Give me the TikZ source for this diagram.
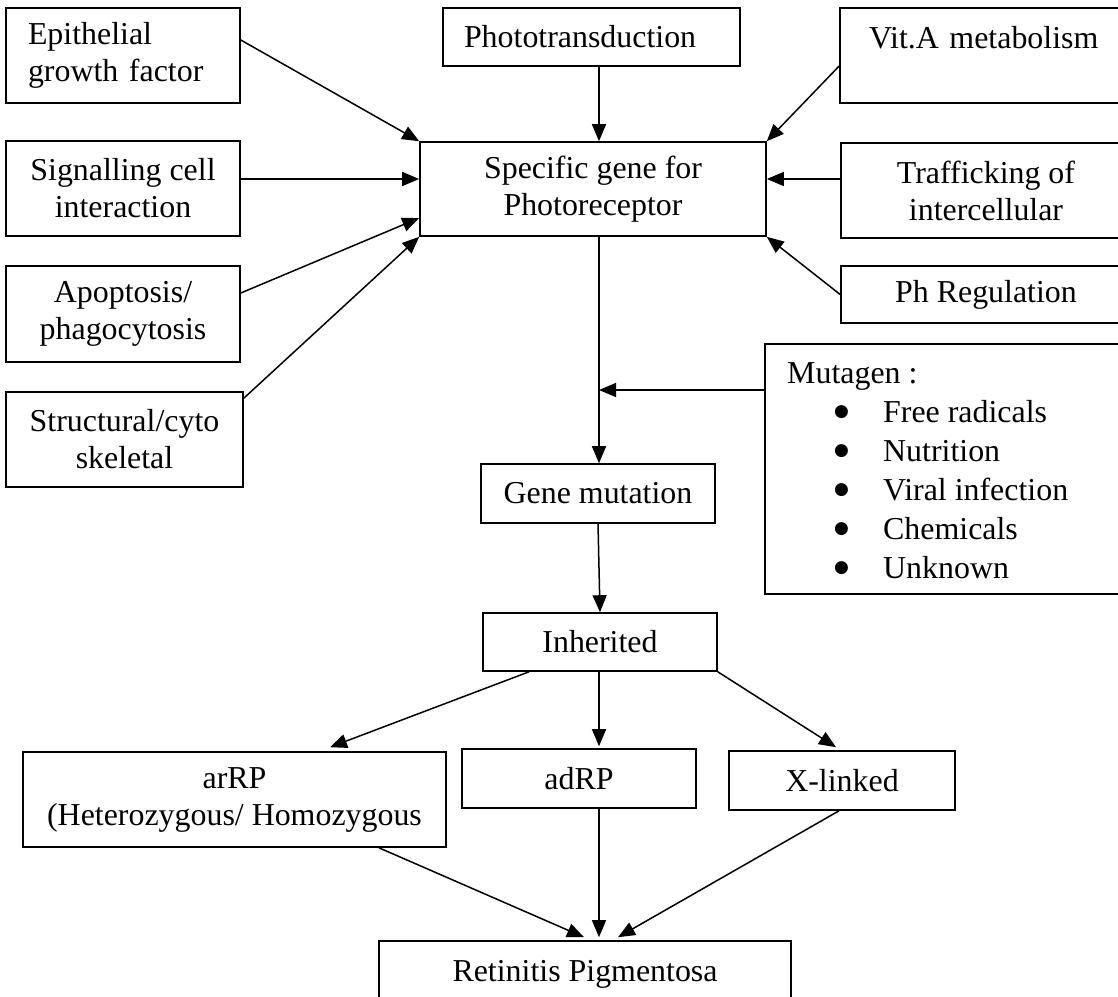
\documentclass[tikz,border=0pt]{standalone}
\usepackage{fontspec}
\setmainfont{Liberation Serif}
\newfontfamily\dvsfont{DejaVu Sans}
\usetikzlibrary{arrows.meta}
\newcommand\rpfont{\fontsize{31.9}{37}\selectfont\frenchspacing}
\newcommand\mutfont{\fontsize{31.9}{39}\selectfont\frenchspacing}
\newcommand\rpitem[1]{\hspace*{47pt}\makebox[49pt][l]{\raisebox{6pt}{\dvsfont\fontsize{17}{17}\selectfont ●}}#1}
\begin{document}
\begin{tikzpicture}[x=1pt,y=-1pt,
  box/.style={draw,line width=1.6pt,inner sep=0pt,align=center,font=\rpfont},
  lbox/.style={box,align=left},
  arr/.style={line width=1.5pt,-{Triangle[length=17pt,width=14pt]}}]
\useasboundingbox (0,0) rectangle (1118,996);
\fill[white] (0,0) rectangle (1118,996);
\clip (0,0) rectangle (1118,996);
\coordinate (ax) at (599,0);
% boxes
\node[lbox,inner xsep=22pt,text width=190pt,minimum height=95pt] (epi) at (123,55.5) {Epithelial\\growth factor};
\node[lbox,inner xsep=21pt,text width=255pt,minimum height=58pt] (photo) at (591.5,37) {Phototransduction};
\node[lbox,inner xsep=29pt,text width=242pt,minimum height=95pt] (vit) at (990,55.5) {Vit.A metabolism\\~};
\node[box,minimum width=346pt,minimum height=94pt] (spec) at (593,189) {Specific gene for\\Photoreceptor};
\node[box,minimum width=234pt,minimum height=95pt] (sig) at (123,188.5) {Signalling cell\\interaction};
\node[box,minimum width=290pt,minimum height=95pt] (traf) at (986,190.5) {Trafficking of\\intercellular};
\node[box,minimum width=290pt,minimum height=57pt] (ph) at (986,294.5) {Ph Regulation};
\node[box,minimum width=234pt,minimum height=96pt] (apo) at (123,314) {Apoptosis/\\phagocytosis};
\node[box,minimum width=237pt,minimum height=95pt] (str) at (124.5,439.5) {Structural/cyto\\skeletal};
\node[box,minimum width=366pt,minimum height=250pt] (mut) at (948,469) {};
\node[inner sep=0pt,anchor=north west,align=left,font=\mutfont] (mlist) at (787,362)
  {Mutagen :\\\rpitem{Free radicals}\\\rpitem{Nutrition}\\\rpitem{Viral infection}\\\rpitem{Chemicals}\\\rpitem{Unknown}};
\node[box,minimum width=234pt,minimum height=59pt] (gm) at (598,493.5) {Gene mutation};
\node[box,minimum width=234pt,minimum height=58pt] (inh) at (600,642) {Inherited};
\node[box,minimum width=423pt,minimum height=95pt] (ar) at (234.5,799.5) {arRP\\(Heterozygous/ Homozygous};
\node[box,minimum width=234pt,minimum height=59pt] (ad) at (579,778.5) {adRP};
\node[box,minimum width=226pt,minimum height=59pt] (xl) at (842,780.5) {X-linked};
\node[box,minimum width=412pt,minimum height=59pt,text depth=0pt] (ret) at (585,970.5) {Retinitis Pigmentosa};
\coordinate (mtip) at (599,390);
% connectors
\draw[arr] ([yshift=15.5pt]epi.east) -- (spec.north west);
\draw[arr] (ax |- photo.south) -- (ax |- spec.north);
\draw[arr] ([yshift=-10.5pt]vit.west) -- (spec.north east);
\draw[arr] ([yshift=9.5pt]sig.east) -- ([yshift=9.5pt]sig.east -| spec.west);
\draw[arr] ([yshift=11.5pt]traf.west) -- ([yshift=11.5pt]traf.west -| spec.east);
\draw[arr] ([yshift=21pt]apo.east) -- ([yshift=-29pt]spec.west);
\draw[arr] ([yshift=-7pt]str.north east) -- (spec.south west);
\draw[arr] (ph.west) -- (spec.south east);
\draw[arr] (ax |- spec.south) -- (ax |- gm.north);
\draw[arr] (mut.west |- mtip) -- (mtip);
\draw[arr] (gm.south) -- (inh.north);
\draw[arr] ([xshift=-71pt]inh.south) -- ([xshift=95.5pt,yshift=4pt]ar.north);
\draw[arr] (ax |- inh.south) -- ([yshift=2pt]ax |- ad.north);
\draw[arr] (inh.south east) -- ([xshift=-6pt,yshift=3pt]xl.north);
\draw[arr] ([xshift=144.5pt]ar.south) -- ([xshift=-1pt,yshift=3pt]ret.north);
\draw[arr] (ax |- ad.south) -- ([yshift=3pt]ax |- ret.north);
\draw[arr] ([xshift=-3pt]xl.south) -- ([xshift=33pt,yshift=3pt]ret.north);
\end{tikzpicture}
\end{document}
